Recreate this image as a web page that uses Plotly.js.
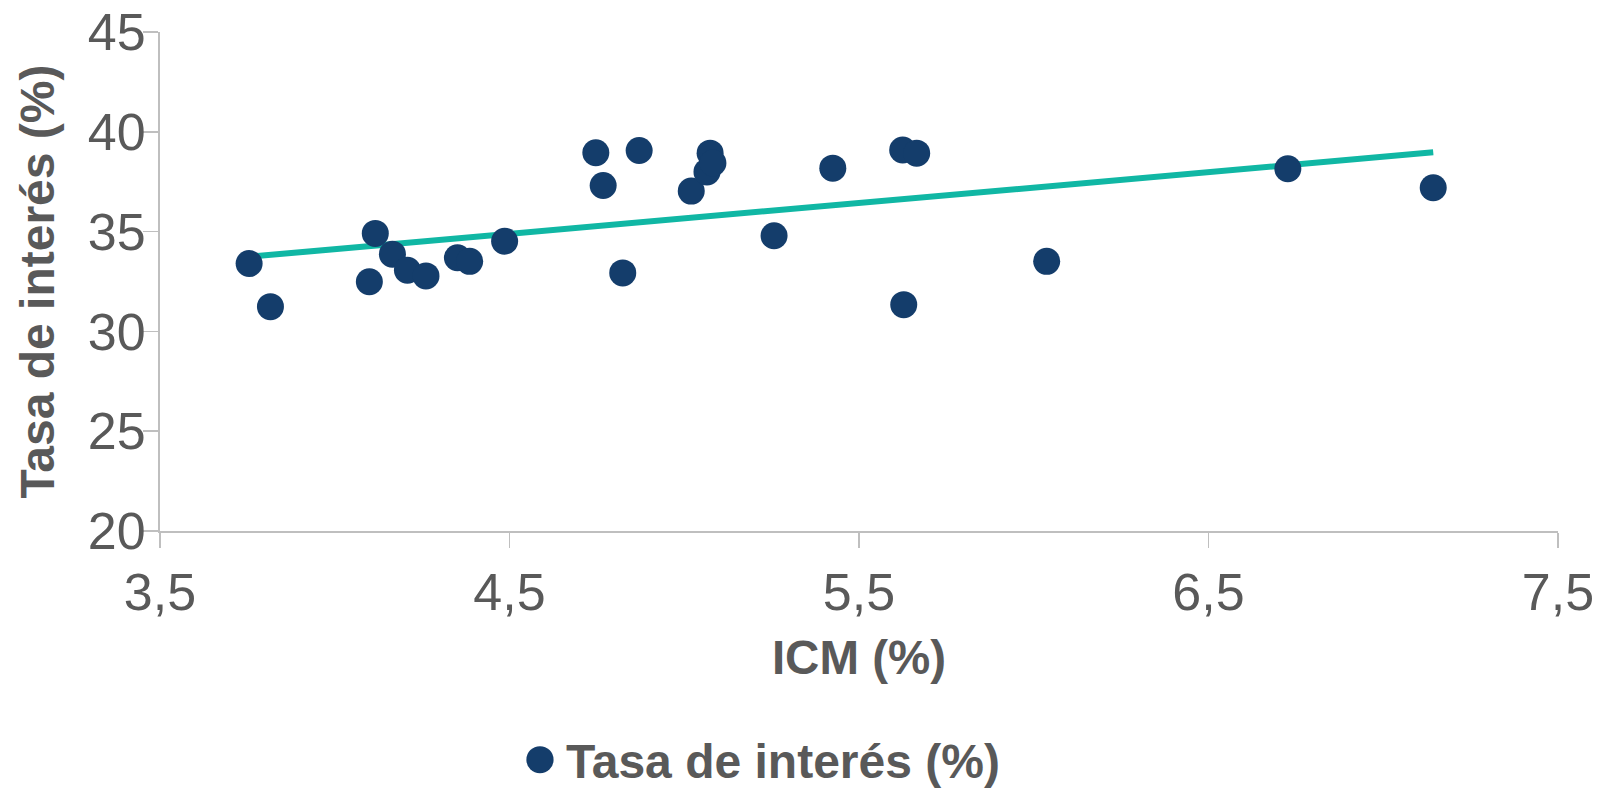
<!DOCTYPE html>
<html>
<head>
<meta charset="utf-8">
<script src="https://cdn.plot.ly/plotly-3.0.1.min.js"></script>
<style>
  html, body { margin: 0; padding: 0; background: #ffffff; }
  #chart { width: 1598px; height: 810px; }
</style>
</head>
<body>
<div id="chart"></div>
<script>
// ICM (%) values (x) and Tasa de interés (%) values (y)
const icm = [3.755, 3.816, 4.099, 4.116, 4.165, 4.208, 4.261, 4.351, 4.386, 4.486,
             4.747, 4.768, 4.824, 4.871, 5.020, 5.065, 5.074, 5.082, 5.257, 5.425,
             5.625, 5.628, 5.665, 6.037, 6.727, 7.143];
const tasa = [33.40, 31.24, 32.49, 34.91, 33.87, 33.06, 32.78, 33.69, 33.51, 34.52,
              38.95, 37.31, 32.93, 39.06, 37.03, 37.99, 38.93, 38.44, 34.79, 38.18,
              39.09, 31.34, 38.93, 33.51, 38.15, 37.20];

// Linear trend line end points
const trendX = [3.755, 7.143];
const trendY = [33.74, 38.97];

// Tick labels
const xTickVals = [3.5, 4.5, 5.5, 6.5, 7.5];
const xTickText = ['3,5', '4,5', '5,5', '6,5', '7,5'];
const yTickVals = [20, 25, 30, 35, 40, 45];
const yTickText = ['20', '25', '30', '35', '40', '45'];

const seriesName = 'Tasa de interés (%)';
const xTitle = 'ICM (%)';
const yTitle = 'Tasa de interés (%)';

const textGrey = '#595959';
const axisGrey = '#bfbfbf';
const FONT = 'Liberation Sans, Arial, sans-serif';

const traces = [
  {
    x: trendX, y: trendY,
    type: 'scatter', mode: 'lines',
    line: { color: '#10b7a4', width: 6 },
    showlegend: false, hoverinfo: 'skip'
  },
  {
    x: icm, y: tasa,
    type: 'scatter', mode: 'markers',
    name: seriesName,
    marker: { color: '#143d6b', size: 27, line: { width: 0 } }
  }
];

const layout = {
  width: 1598, height: 810,
  paper_bgcolor: '#ffffff', plot_bgcolor: '#ffffff',
  margin: { l: 160, r: 40, t: 32, b: 264, pad: 0 },
  font: { family: FONT, color: textGrey },
  separators: ',.',
  showlegend: true,
  xaxis: {
    range: [3.5, 7.5],
    tickvals: xTickVals, ticktext: xTickText,
    showgrid: false, zeroline: false,
    showline: true, linecolor: axisGrey, linewidth: 2,
    ticks: 'outside', ticklen: 15, tickwidth: 1.5, tickcolor: axisGrey,
    tickfont: { family: FONT, size: 52, color: textGrey },
    title: { text: xTitle, font: { family: FONT, size: 47.5, color: textGrey, weight: 'bold' }, standoff: 20 },
    automargin: false, fixedrange: true
  },
  yaxis: {
    range: [20, 45],
    tickvals: yTickVals, ticktext: yTickText,
    showgrid: false, zeroline: false,
    showline: true, linecolor: axisGrey, linewidth: 2,
    ticks: 'outside', ticklen: 15, tickwidth: 1.5, tickcolor: axisGrey,
    tickfont: { family: FONT, size: 52, color: textGrey },
    ticklabelstandoff: -13,
    title: { text: yTitle, font: { family: FONT, size: 48, color: textGrey, weight: 'bold' }, standoff: 0 },
    automargin: false, fixedrange: true
  },
  legend: {
    orientation: 'h',
    x: 0.2532, xanchor: 'left',
    y: -0.459, yanchor: 'middle',
    itemwidth: 42,
    font: { family: FONT, size: 48, color: textGrey, weight: 'bold' },
    bgcolor: 'rgba(0,0,0,0)'
  }
};

Plotly.newPlot('chart', traces, layout, { displayModeBar: false, staticPlot: true }).then(function (gd) {
  // enlarge the legend symbol to the size used in the reference
  gd.querySelectorAll('.legendpoints path.scatterpts').forEach(function (p) {
    var t = p.getAttribute('transform') || '';
    p.setAttribute('transform', t + ' scale(1.7)');
  });
  // nudge the y-axis title closer to the page edge, as in the reference
  gd.querySelectorAll('.g-ytitle').forEach(function (g) {
    g.setAttribute('transform', 'translate(-18,0)');
  });
});
</script>
</body>
</html>
